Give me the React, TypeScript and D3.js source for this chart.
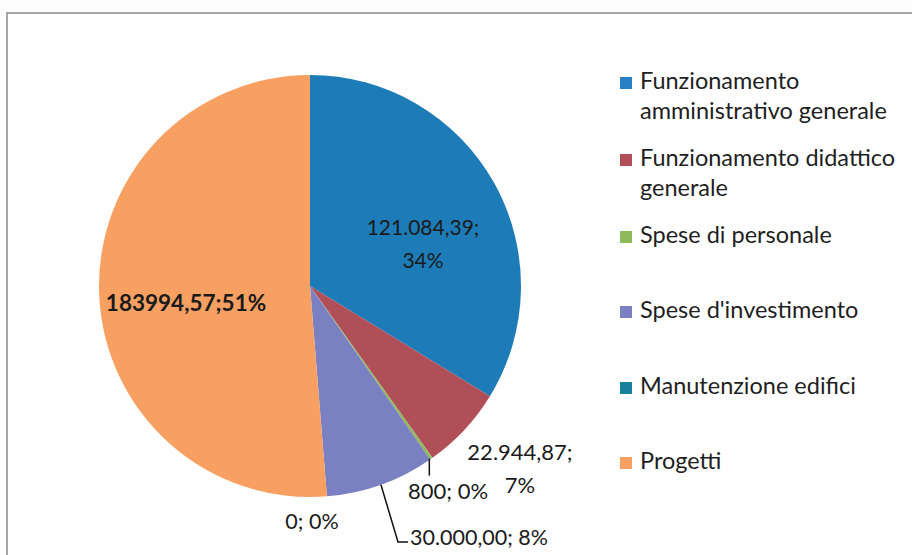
import React from "react";
import * as d3 from "d3";

// ==========================
// Data
// ==========================
const categories = [
  "Funzionamento amministrativo generale",
  "Funzionamento didattico generale",
  "Spese di personale",
  "Spese d'investimento",
  "Manutenzione edifici",
  "Progetti",
];
const values = [121084.39, 22944.87, 800, 30000, 0, 183994.57];
const sliceLabels = [
  ["121.084,39;", "34%"],
  ["22.944,87;", "7%"],
  ["800; 0%"],
  ["30.000,00; 8%"],
  ["0; 0%"],
  ["183994,57;51%"],
];
const legendLines = [
  ["Funzionamento", "amministrativo generale"],
  ["Funzionamento didattico", "generale"],
  ["Spese di personale"],
  ["Spese d'investimento"],
  ["Manutenzione edifici"],
  ["Progetti"],
];
const colors = ["#1d7cb8", "#b04f58", "#8fba5c", "#7a80c2", "#17819e", "#f8a062"];
const legendColors = ["#2a80c4", "#b04f58", "#8fba5c", "#7a80c2", "#17819e", "#f7a062"];

// label placement relative to pie centre (dx, dy, anchor) + leader style
const labelLayout = [
  { dx: 113, dy: -40, anchor: "middle", size: 21, weight: 400 },
  { dx: 210, dy: 184, anchor: "middle", size: 22, weight: 400 },
  { dx: 138, dy: 207, anchor: "middle", size: 22, weight: 400, leader: "down" },
  { dx: 100, dy: 254, anchor: "start", size: 21.5, weight: 400, leader: "elbow" },
  { dx: 2, dy: 238, anchor: "middle", size: 21.5, weight: 400 },
  { dx: -124, dy: 19, anchor: "middle", size: 22.5, weight: 700 },
];

const W = 912;
const H = 555;
const cx = 310;
const cy = 286;
const R = 211;
const FONT = "Lato, 'Open Sans', sans-serif";

export default function App() {
  const pie = d3.pie<number>().sort(null).value((d) => d);
  const arcs = pie(values);
  const arc = d3.arc<d3.PieArcDatum<number>>().innerRadius(0).outerRadius(R);

  const edge = (a: d3.PieArcDatum<number>, r: number) => {
    const m = (a.startAngle + a.endAngle) / 2;
    return [cx + r * Math.sin(m), cy - r * Math.cos(m)];
  };

  const legendY = [83, 160, 237, 312, 388, 463];

  return (
    <svg width={W} height={H} style={{ position: "absolute", left: 0, top: 0, background: "#fdfdfd" }}>
      <rect x={7} y={13} width={W + 20} height={H + 20} fill="#fefefe" stroke="#8a8a8a" strokeWidth={1.5} />

      {/* slices */}
      <g transform={`translate(${cx},${cy})`}>
        {arcs.map((a, i) => (
          <path key={i} d={arc(a) || ""} fill={colors[i]} />
        ))}
      </g>

      {/* leader lines */}
      {arcs.map((a, i) => {
        const lay = labelLayout[i];
        if (!lay.leader) return null;
        const [x0, y0] = edge(a, R);
        if (lay.leader === "down") {
          return <line key={i} x1={x0 - 2} y1={y0} x2={x0 - 2} y2={y0 + 17} stroke="#111" strokeWidth={1.5} />;
        }
        const lx = cx + lay.dx - 2;
        const ly = cy + lay.dy + 2;
        return (
          <polyline key={i} points={`${x0},${y0} ${lx - 10},${ly} ${lx},${ly}`} fill="none" stroke="#111" strokeWidth={1.5} />
        );
      })}

      {/* labels */}
      {sliceLabels.map((lines, i) => {
        const lay = labelLayout[i];
        const x = cx + lay.dx;
        const y0 = cy + lay.dy - ((lines.length - 1) * 33) / 2;
        return (
          <text key={i} x={x} y={y0} textAnchor={lay.anchor as any} dominantBaseline="middle"
            fontFamily={FONT} fontSize={lay.size} fontWeight={lay.weight} fill="#1a1a1a">
            {lines.map((l, j) => (
              <tspan key={j} x={x} dy={j === 0 ? 0 : 33}>{l}</tspan>
            ))}
          </text>
        );
      })}

      {/* legend */}
      {categories.map((c, i) => {
        const y = legendY[i];
        return (
          <g key={c}>
            <rect x={620} y={y - 6} width={12} height={12} fill={legendColors[i]} />
            <text x={640} y={y} dominantBaseline="middle" fontFamily={FONT} fontSize={23.5} fill="#1f1f1f">
              {legendLines[i].map((l, j) => (
                <tspan key={j} x={640} dy={j === 0 ? 0 : 30}>{l}</tspan>
              ))}
            </text>
          </g>
        );
      })}
    </svg>
  );
}
